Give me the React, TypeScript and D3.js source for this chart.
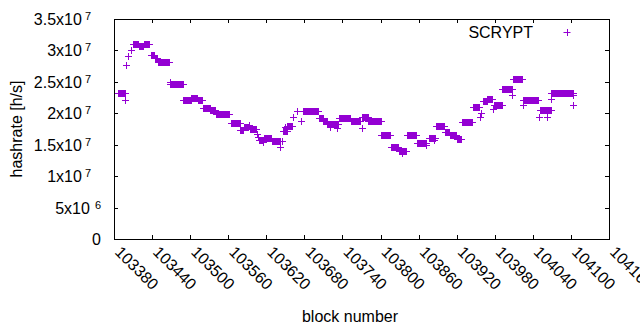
import React, { useEffect, useRef } from "react";
import * as d3 from "d3";

// runs of consecutive SCRYPT blocks that share one hashrate value
const runStart = [
  103386, 103398, 103399, 103402, 103407, 103410, 103419, 103427, 103439, 103444,
  103449, 103468, 103469, 103489, 103502, 103512, 103521, 103532, 103540, 103564,
  103579, 103585, 103593, 103595, 103605, 103607, 103609, 103614, 103616, 103629,
  103642, 103644, 103647, 103650, 103653, 103662, 103668, 103674, 103678, 103703,
  103710, 103716, 103720, 103731, 103734, 103753, 103770, 103770, 103781, 103801,
  103816, 103829, 103834, 103841, 103857, 103872, 103876, 103885, 103887, 103901,
  103909, 103920, 103928, 103945, 103956, 103959, 103962, 103968, 103977, 103978,
  103992, 104007, 104009, 104025, 104024, 104050, 104051, 104062, 104069, 104069,
  104104, 104104,
];
const runEnd = [
  103397, 103398, 103399, 103402, 103407, 103418, 103426, 103435, 103443, 103448,
  103467, 103468, 103488, 103501, 103511, 103519, 103531, 103539, 103561, 103578,
  103584, 103591, 103593, 103604, 103605, 103607, 103615, 103614, 103628, 103641,
  103642, 103644, 103652, 103650, 103661, 103662, 103668, 103674, 103702, 103709,
  103715, 103733, 103720, 103731, 103752, 103768, 103780, 103770, 103800, 103815,
  103828, 103840, 103834, 103856, 103871, 103872, 103886, 103885, 103900, 103908,
  103919, 103927, 103944, 103955, 103956, 103959, 103967, 103976, 103977, 103991,
  104007, 104007, 104023, 104025, 104048, 104050, 104068, 104062, 104103, 104069,
  104104, 104104,
];
const runRate = [
  23.2e6, 22.1e6, 27.7e6, 29.1e6, 30.0e6, 31.0e6, 30.75e6, 31.0e6, 29.2e6, 28.85e6,
  28.1e6, 25.0e6, 24.65e6, 22.07e6, 22.4e6, 22.07e6, 20.8e6, 20.47e6, 19.84e6, 18.4e6,
  17.3e6, 17.8e6, 18.2e6, 17.45e6, 16.65e6, 16.27e6, 15.75e6, 15.38e6, 16.02e6, 15.54e6,
  14.6e6, 15.64e6, 17.18e6, 17.87e6, 18.03e6, 19.46e6, 20.41e6, 18.72e6, 20.32e6, 19.2e6,
  18.72e6, 18.35e6, 17.77e6, 17.66e6, 19.2e6, 18.82e6, 19.46e6, 17.61e6, 18.72e6, 16.49e6,
  14.69e6, 14.05e6, 13.73e6, 16.5e6, 15.32e6, 14.96e6, 16.02e6, 15.75e6, 17.98e6, 16.97e6,
  16.5e6, 15.91e6, 18.57e6, 20.95e6, 19.36e6, 20.0e6, 21.9e6, 22.3e6, 20.63e6, 21.27e6,
  23.92e6, 22.91e6, 25.4e6, 21.37e6, 22.1e6, 19.46e6, 20.52e6, 19.46e6, 23.17e6, 22.3e6,
  22.96e6, 21.27e6,
];

const xTicks = [
  103380, 103440, 103500, 103560, 103620, 103680, 103740, 103800, 103860, 103920,
  103980, 104040, 104100, 104160,
];
const yTicks = [0, 5e6, 1e7, 1.5e7, 2e7, 2.5e7, 3e7, 3.5e7];
const seriesName = "SCRYPT";

const color = "#9400d3";
const font = "'Liberation Sans', Arial, sans-serif";

function App() {
  const ref = useRef<SVGSVGElement>(null);

  useEffect(() => {
    const svg = d3.select(ref.current);
    svg.selectAll("*").remove();

    const left = 114, right = 609, top = 19, bottom = 239;
    const x = d3.scaleLinear().domain([104160 - 780, 104160]).range([left, right]);
    const y = d3.scaleLinear().domain([0, 3.5e7]).range([bottom, top]);
    const tick = 4;
    const arm = 3.5;

    svg.append("rect").attr("width", 640).attr("height", 330).attr("fill", "#fff");

    // ticks on all four sides, pointing inwards
    const g = svg.append("g").attr("stroke", "#000").attr("stroke-width", 1).attr("shape-rendering", "crispEdges");
    xTicks.forEach(t => {
      const px = Math.round(x(t)) + 0.5;
      g.append("line").attr("x1", px).attr("x2", px).attr("y1", bottom).attr("y2", bottom - tick);
      g.append("line").attr("x1", px).attr("x2", px).attr("y1", top).attr("y2", top + tick);
    });
    yTicks.forEach(t => {
      const py = Math.round(y(t)) + 0.5;
      g.append("line").attr("x1", left).attr("x2", left + tick).attr("y1", py).attr("y2", py);
      g.append("line").attr("x1", right).attr("x2", right - tick).attr("y1", py).attr("y2", py);
    });
    g.append("rect")
      .attr("x", left + 0.5).attr("y", top + 0.5)
      .attr("width", right - left).attr("height", bottom - top)
      .attr("fill", "none");

    // y tick labels like 3.5x10^7
    yTicks.forEach(t => {
      const ty = Math.round(y(t)) + 5.5;
      if (t === 0) {
        svg.append("text").attr("x", 101).attr("y", ty).attr("text-anchor", "end")
          .attr("font-family", font).attr("font-size", 16).text("0");
        return;
      }
      const e = Math.floor(Math.log10(t));
      const m = t / Math.pow(10, e);
      const txt = svg.append("text").attr("x", e === 6 ? 101 : 91).attr("y", ty)
        .attr("text-anchor", "end").attr("font-family", font).attr("font-size", 16);
      txt.append("tspan").text(`${m}x10`);
      txt.append("tspan").attr("dx", e === 6 ? 5 : 3).attr("dy", -5).attr("font-size", 11).text(String(e));
    });

    // x tick labels, rotated
    xTicks.forEach(t => {
      const px = x(t) + 3;
      const py = bottom + 11;
      svg.append("text")
        .attr("transform", `translate(${px},${py}) rotate(45)`)
        .attr("dominant-baseline", "middle")
        .attr("font-family", font).attr("font-size", 16)
        .text(String(t));
    });

    svg.append("text").attr("x", 350).attr("y", 322).attr("text-anchor", "middle")
      .attr("font-family", font).attr("font-size", 16).text("block number");
    svg.append("text").attr("transform", "translate(22,129) rotate(-90)").attr("text-anchor", "middle")
      .attr("font-family", font).attr("font-size", 16).text("hashrate [h/s]");

    // points: each run is the union of its "+" markers
    const runs = runStart.map((s, i) => ({ s, e: runEnd[i], v: runRate[i] }));
    const pts = svg.append("g").attr("shape-rendering", "crispEdges");
    pts.selectAll("rect.run")
      .data(runs)
      .join("rect")
      .attr("class", "run")
      .attr("x", d => Math.round(x(d.s)))
      .attr("y", d => Math.round(y(d.v)) - 3)
      .attr("width", d => Math.max(1, Math.round(x(d.e)) - Math.round(x(d.s)) + 1))
      .attr("height", 7)
      .attr("fill", color);
    pts.selectAll("rect.arm")
      .data(runs)
      .join("rect")
      .attr("class", "arm")
      .attr("x", d => Math.round(x(d.s)) - 3)
      .attr("y", d => Math.round(y(d.v)))
      .attr("width", d => Math.round(x(d.e)) - Math.round(x(d.s)) + 7)
      .attr("height", 1)
      .attr("fill", color);

    // legend
    svg.append("text").attr("x", 533).attr("y", 37.5).attr("text-anchor", "end")
      .attr("font-family", font).attr("font-size", 16).text(seriesName);
    const lx = 567, ly = 32;
    svg.append("rect").attr("x", lx - arm).attr("y", ly).attr("width", 7).attr("height", 1).attr("fill", color);
    svg.append("rect").attr("x", lx).attr("y", ly - arm + 0.5).attr("width", 1).attr("height", 7).attr("fill", color);
  }, []);

  return (
    <svg ref={ref} width={640} height={330} style={{ position: "absolute", left: 0, top: 0 }} />
  );
}

export default App;
